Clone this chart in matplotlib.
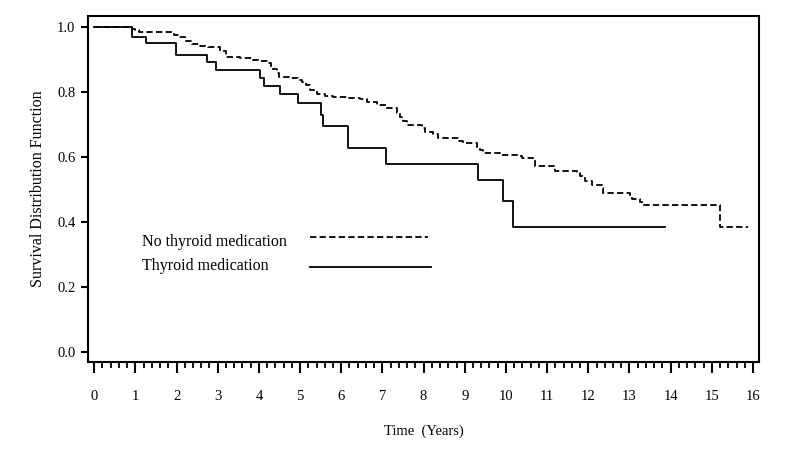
import matplotlib
matplotlib.use("Agg")
import matplotlib.pyplot as plt
from matplotlib.lines import Line2D
from matplotlib.ticker import MultipleLocator
import numpy as np

plt.rcParams['font.family'] = ['Liberation Serif', 'DejaVu Serif']

# ── Kaplan-Meier step data (time in years, survival after each drop) ─────────
no_med_times = [0.0, 0.92, 1.00, 1.10, 1.93, 2.05, 2.20, 2.37, 2.57, 2.77,
                3.05, 3.20, 3.55, 3.86, 4.02, 4.19, 4.30, 4.43, 4.50, 4.75,
                4.95, 5.05, 5.15, 5.25, 5.40, 5.60, 5.81, 6.13, 6.45, 6.62,
                6.86, 7.10, 7.35, 7.42, 7.50, 7.59, 7.95, 8.03, 8.23, 8.36,
                8.84, 8.96, 9.29, 9.37, 9.45, 9.85, 10.30, 10.38, 10.66, 10.70,
                11.20, 11.72, 11.80, 11.92, 12.08, 12.33, 12.36, 13.01, 13.05, 13.25,
                13.30, 15.20, 15.88]
no_med_surv = [1.000, 0.995, 0.990, 0.984, 0.977, 0.968, 0.958, 0.949, 0.942, 0.937,
               0.925, 0.907, 0.904, 0.900, 0.895, 0.888, 0.872, 0.860, 0.847, 0.844,
               0.838, 0.832, 0.822, 0.806, 0.793, 0.788, 0.786, 0.782, 0.778, 0.770,
               0.760, 0.750, 0.734, 0.724, 0.710, 0.698, 0.690, 0.678, 0.670, 0.657,
               0.650, 0.642, 0.630, 0.620, 0.611, 0.606, 0.603, 0.596, 0.590, 0.573,
               0.558, 0.550, 0.540, 0.525, 0.514, 0.505, 0.490, 0.481, 0.471, 0.462,
               0.452, 0.386, 0.386]

med_times = [0.0, 0.91, 1.25, 1.98, 2.75, 2.97, 4.02, 4.13, 4.51, 4.96,
             5.52, 5.55, 6.17, 7.09, 9.31, 9.93, 10.16, 13.86]
med_surv = [1.000, 0.968, 0.951, 0.914, 0.891, 0.867, 0.844, 0.820, 0.793, 0.765,
            0.729, 0.695, 0.627, 0.578, 0.529, 0.465, 0.386, 0.386]

labels = ["No thyroid medication", "Thyroid medication"]

fig = plt.figure(figsize=(8, 4.49), dpi=100)
ax = fig.add_axes([0.11, 0.1938, 0.839, 0.7706])

ax.plot(no_med_times, no_med_surv, drawstyle='steps-post', color='black',
        linewidth=1.3, dashes=(3.5, 1.8))
ax.plot(med_times, med_surv, drawstyle='steps-post', color='black',
        linewidth=1.3)

# ── Legend drawn by hand (text left, line sample right) ──────────────────────
ax.text(0.0805, 0.334, labels[0], transform=ax.transAxes, fontsize=11.5,
        va='baseline', ha='left')
ax.text(0.0805, 0.266, labels[1], transform=ax.transAxes, fontsize=11.5,
        va='baseline', ha='left')
ax.add_line(Line2D([0.331, 0.507], [0.361, 0.361], transform=ax.transAxes,
                   color='black', linewidth=1.3, dashes=(3.5, 1.8)))
ax.add_line(Line2D([0.331, 0.511], [0.275, 0.275], transform=ax.transAxes,
                   color='black', linewidth=1.3))

ax.set_xlim(-0.15, 16.15)
ax.set_ylim(-0.031, 1.034)
ax.xaxis.set_major_locator(MultipleLocator(1))
ax.xaxis.set_minor_locator(MultipleLocator(0.2))
ax.set_yticks(np.arange(0, 1.01, 0.2))
ax.set_yticklabels([f"{v:.1f}" for v in np.arange(0, 1.01, 0.2)])

for s in ax.spines.values():
    s.set_linewidth(1.5)
ax.tick_params(axis='both', which='major', direction='out', width=1.5,
               labelsize=10.5)
ax.tick_params(axis='x', which='major', length=8, pad=12)
ax.tick_params(axis='x', which='minor', length=4.5, width=1.3)
ax.tick_params(axis='y', which='major', length=5, pad=4)

ax.set_xlabel('Time  (Years)', fontsize=10.5, labelpad=16)
ax.set_ylabel('Survival Distribution Function', fontsize=11.5, labelpad=8)

fig.savefig('out.png', dpi=100)
